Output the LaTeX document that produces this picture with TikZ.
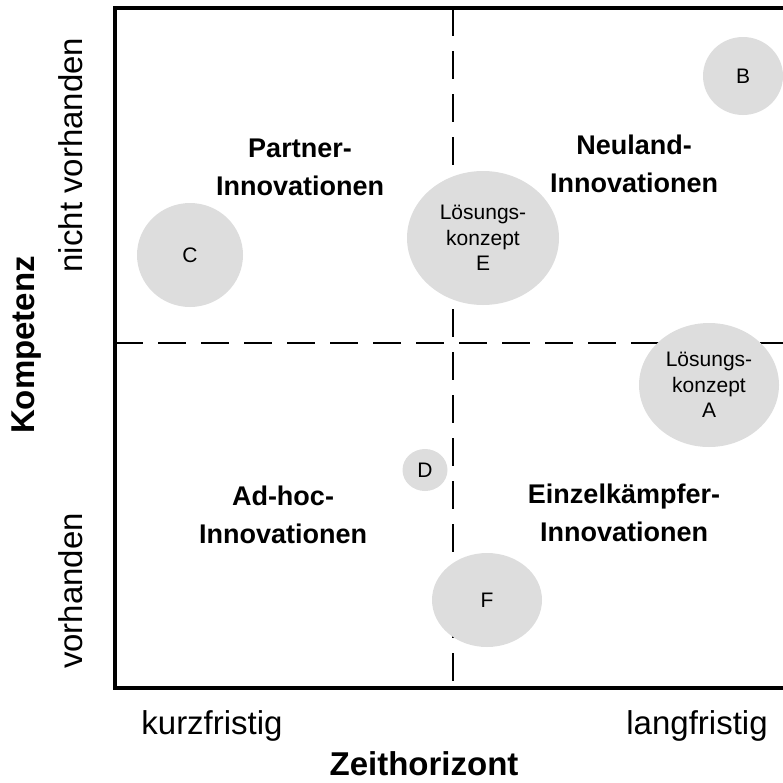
\documentclass[tikz,border=0pt]{standalone}
\usepackage{fontspec}
\setmainfont{Liberation Sans}
\usetikzlibrary{shapes.geometric}
\definecolor{circfill}{RGB}{221,221,221}
\tikzset{
  frameline/.style={line width=3.5pt, line cap=rect},
  divider/.style={line width=2.5pt, dash pattern=on 28pt off 15pt},
  blob/.style={ellipse, fill=circfill, draw=none, inner sep=0pt, align=center,
    font=\fontsize{21}{25.5}\selectfont},
  quadtitle/.style={align=center, font=\bfseries\fontsize{27}{38}\selectfont},
  ticklabel/.style={font=\fontsize{33}{36}\selectfont},
  axistitle/.style={inner sep=0pt, font=\bfseries\fontsize{33}{36}\selectfont}
}
\begin{document}
\begin{tikzpicture}[x=1pt,y=-1pt]
\useasboundingbox (0,0) rectangle (783,782);
\coordinate (tl) at (115,8);
\coordinate (tr) at (783,8);
\coordinate (bl) at (115,688);
\coordinate (br) at (783,688);
\coordinate (vt) at (453,8);
\coordinate (vb) at (453,688);
\coordinate (hl) at (115,343);
\coordinate (hr) at (783,343);
% dividers
\draw[divider] (vt) -- (vb);
\draw[divider] (hl) -- (hr);
% frame
\draw[frameline] (tr) -- (tl) -- (bl) -- (br);
% bubbles
\node[blob, minimum width=80pt, minimum height=78pt] (B) at (743,76) {B};
\node[blob, minimum width=140pt, minimum height=124pt] (A) at (709,385) {Lösungs-\\konzept\\A};
\node[blob, minimum width=152pt, minimum height=134pt] (E) at (483,238) {Lösungs-\\konzept\\E};
\node[blob, minimum width=106pt, minimum height=104pt] (C) at (190,255) {C};
\node[blob, minimum width=45pt, minimum height=42pt] (D) at (425,470) {D};
\node[blob, minimum width=110pt, minimum height=94pt] (F) at (487,600) {F};
% quadrant titles
\node[quadtitle] (partner) at (300,167) {Partner-\\Innovationen};
\node[quadtitle] (neuland) at (634,164) {Neuland-\\Innovationen};
\node[quadtitle] (adhoc) at (283,515) {Ad-hoc-\\Innovationen};
\node[quadtitle] (einzel) at (624,513) {Einzelkämpfer-\\Innovationen};
% axis labels
\node[ticklabel] (kurz) at (212,726) {kurzfristig};
\node[ticklabel] (lang) at (697,726) {langfristig};
\node[axistitle] (zeit) at (424,764) {Zeithorizont};
\node[axistitle, rotate=90] (komp) at (27,345) {Kompetenz};
\node[ticklabel, rotate=90] (nv) at (71,155) {nicht vorhanden};
\node[ticklabel, rotate=90] (v) at (71,591) {vorhanden};
\end{tikzpicture}
\end{document}
